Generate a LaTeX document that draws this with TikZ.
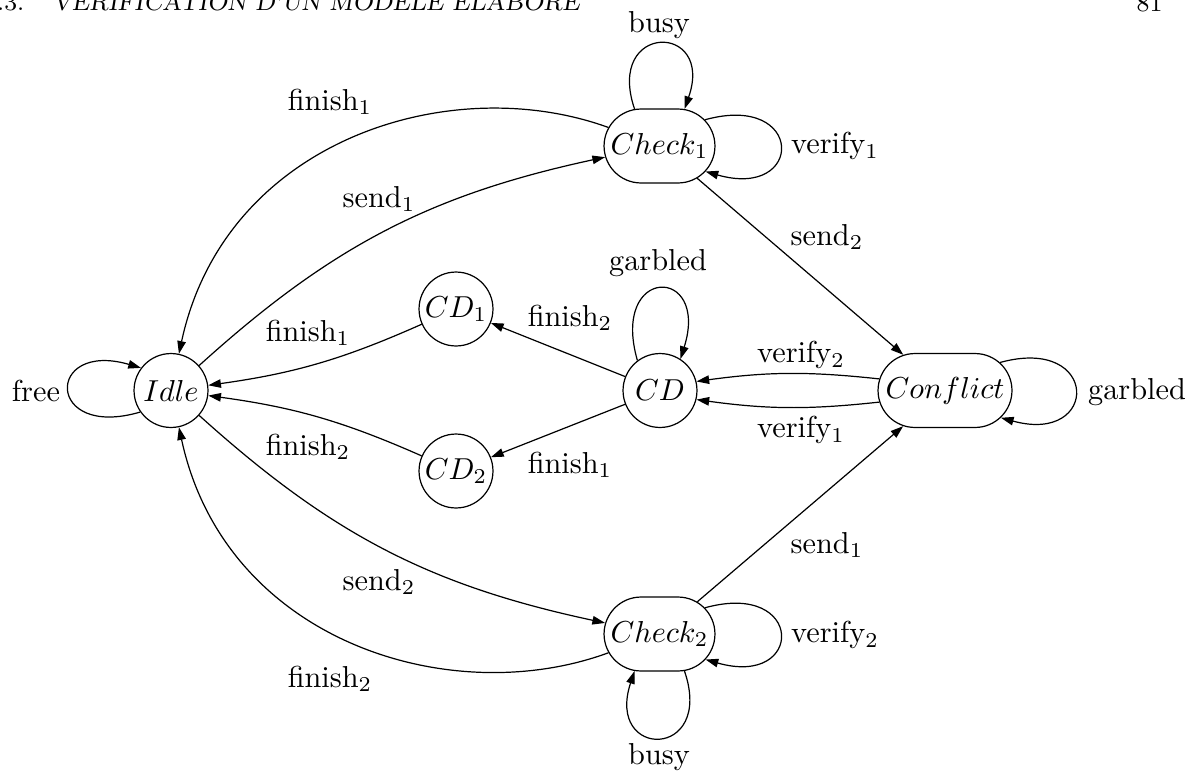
\documentclass[tikz,border=0pt]{standalone}
\usetikzlibrary{arrows.meta,shapes.misc}
\begin{document}
\begin{tikzpicture}[x=0.33pt,y=0.33pt,
  >={Triangle[length=4.2pt,width=2.8pt]},
  edge/.style={draw,->,line width=0.4pt},
  state/.style={circle,draw,line width=0.4pt,minimum size=24.4pt,inner sep=0pt},
  pill/.style={rounded rectangle,draw,line width=0.4pt,minimum width=38.6pt,minimum height=24.4pt,inner sep=1pt},
  lbl/.style={inner sep=0pt},
  hdr/.style={inner sep=0pt,font=\fontsize{8}{9}\selectfont}]
\useasboundingbox (0,0) rectangle (1193,-772);

% header
\node[hdr,anchor=base east] (hnum) at (25,-11) {6.3.};
\node[hdr,anchor=base west,font=\fontsize{8}{9}\selectfont\slshape] (htitle) at (52,-11) {VÉRIFICATION D'UN MODÈLE ÉLABORÉ};
\node[hdr,anchor=base east] (hpage) at (1163,-12) {81};

% states
\node[state] (idle) at (171,-390.5) {$Idle$};
\node[state] (cd1) at (456,-309) {$CD_1$};
\node[state] (cd2) at (456,-471) {$CD_2$};
\node[state] (cd) at (660,-390.5) {$CD$};
\node[pill] (c1) at (659.5,-146) {$Check_1$};
\node[pill] (c2) at (659.5,-634) {$Check_2$};
\node[pill,minimum width=46.2pt] (conf) at (945,-390.5) {$Conflict$};

% self loops
\draw[edge] (idle.215) .. controls (45,-440) and (45,-340) .. (idle.143);
\draw[edge] (c1.124) .. controls (605,-22) and (715,-22) .. (c1.56);
\draw[edge] (c1.30) .. controls (805,-92) and (805,-200) .. (c1.-29);
\draw[edge] (c2.30) .. controls (805,-580) and (805,-688) .. (c2.-29);
\draw[edge] (c2.-56) .. controls (715,-760) and (605,-760) .. (c2.-124);
\draw[edge] (cd.127) .. controls (610,-265) and (710,-265) .. (cd.57);
\draw[edge] (conf.27) .. controls (1100,-335) and (1100,-445) .. (conf.-26);

% transitions
\draw[edge] (idle) to[bend left=15] (c1);
\draw[edge] (idle) to[bend right=15] (c2);
\draw[edge] (c1) .. controls (450,-70) and (225,-140) .. (idle);
\draw[edge] (c2) .. controls (450,-711) and (225,-641) .. (idle);
\draw[edge] (cd1) to[bend left=8] (idle);
\draw[edge] (cd2) to[bend right=8] (idle);
\draw[edge] (cd) -- (cd1);
\draw[edge] (cd) -- (cd2);
\draw[edge] (conf.170) to[bend right=7] (cd.14);
\draw[edge] (conf.190) to[bend left=7] (cd.-14);
\draw[edge] (c1) -- (conf);
\draw[edge] (c2) -- (conf);

% labels
\node[lbl] (lfree) at (36,-391) {free};
\node[lbl] (lf1a) at (330,-102) {finish$_1$};
\node[lbl] (ls1a) at (379,-199) {send$_1$};
\node[lbl] (lf1b) at (308,-333) {finish$_1$};
\node[lbl] (lf2b) at (570,-318) {finish$_2$};
\node[lbl] (lgcd) at (658,-263) {garbled};
\node[lbl] (lv2) at (801,-355) {verify$_2$};
\node[lbl] (lv1) at (801,-430) {verify$_1$};
\node[lbl] (lf2c) at (308,-447) {finish$_2$};
\node[lbl] (lf1c) at (570,-465) {finish$_1$};
\node[lbl] (ls2a) at (379,-582) {send$_2$};
\node[lbl] (lf2a) at (330,-679) {finish$_2$};
\node[lbl] (ls2b) at (827,-237) {send$_2$};
\node[lbl] (ls1b) at (827,-545) {send$_1$};
\node[lbl] (lbusy1) at (659,-25) {busy};
\node[lbl] (lver1) at (835,-146) {verify$_1$};
\node[lbl] (lver2) at (835,-635) {verify$_2$};
\node[lbl] (lbusy2) at (659,-757) {busy};
\node[lbl] (lgconf) at (1137,-392) {garbled};
\end{tikzpicture}
\end{document}
